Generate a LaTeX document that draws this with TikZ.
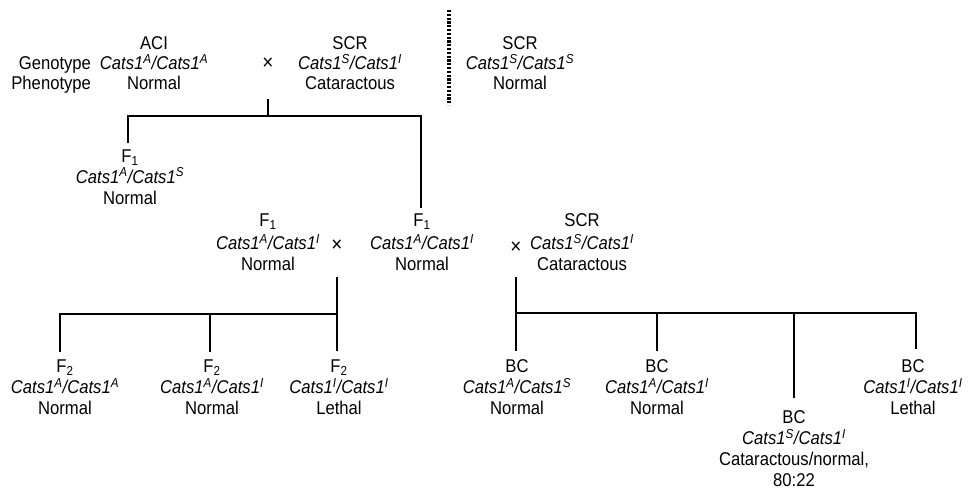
\documentclass[tikz,border=0pt]{standalone}
\usepackage{fontspec}
\setmainfont{Liberation Sans}[FakeStretch=0.9]
\newcommand{\gtype}[2]{\textit{Cats1\textsuperscript{#1}/Cats1\textsuperscript{#2}}}
\begin{document}
\begin{tikzpicture}[x=1pt,y=-1pt,
  ind/.style={align=center, inner sep=0pt, outer sep=0pt, anchor=north,
    font=\fontsize{18.5}{21}\selectfont},
  topind/.style={ind, font=\fontsize{18.5}{20}\selectfont},
  cross/.style={inner sep=0pt, font=\fontsize{21}{22}\selectfont},
  tree/.style={line width=1.3pt, line cap=rect},
  dotline/.style={line width=3.4pt, dash pattern=on 2.2pt off 1.6pt}]
\useasboundingbox (0,0) rectangle (973,501);

% parental generation
\node[topind, align=right, anchor=north east] (lab) at (91,56.5) {Genotype\\Phenotype};
\node[topind] (aci) at (154,36.5) {ACI\\\gtype{A}{A}\\Normal};
\node[cross] (x1) at (268,64) {×};
\node[topind] (scr1) at (350,36.5) {SCR\\\gtype{S}{I}\\Cataractous};
\node[topind] (scr0) at (520,36.5) {SCR\\\gtype{S}{S}\\Normal};
\coordinate (d1) at (449,10);
\coordinate (d2) at (449,105);
\draw[dotline] (d1) -- (d2);

% F1
\node[ind] (f1a) at (130,149.5) {F\textsubscript{1}\\\gtype{A}{S}\\Normal};
\node[ind] (f1b) at (268,214) {F\textsubscript{1}\\[2pt]\gtype{A}{I}\\Normal};
\node[cross] (x2) at (337,246) {×};
\node[ind] (f1c) at (422,214) {F\textsubscript{1}\\[2pt]\gtype{A}{I}\\Normal};
\node[cross] (x3) at (516,248) {×};
\node[ind] (scr2) at (582,214) {SCR\\[2pt]\gtype{S}{I}\\Cataractous};

\coordinate (t1) at (268,100);
\coordinate (j1) at (268,116);
\draw[tree] (t1) -- (j1);
\draw[tree] ([yshift=7pt,xshift=-2pt]f1a.north) |- (j1) -| ([yshift=7pt,xshift=-1pt]f1c.north);

% F2
\node[ind] (f2a) at (65,360) {F\textsubscript{2}\\\gtype{A}{A}\\Normal};
\node[ind] (f2b) at (212,360) {F\textsubscript{2}\\\gtype{A}{I}\\Normal};
\node[ind] (f2c) at (339,360) {F\textsubscript{2}\\\gtype{I}{I}\\Lethal};

\coordinate (t2) at (337,278);
\coordinate (j2) at (337,314);
\coordinate (b2) at (337,350);
\draw[tree] (t2) -- (b2);
\draw[tree] ([yshift=9pt,xshift=-5pt]f2a.north) |- (j2);
\draw[tree] ([yshift=9pt,xshift=-2pt]f2b.north) -- ([xshift=-2pt]f2b.north |- j2);

% backcross
\node[ind] (bc1) at (517,360) {BC\\\gtype{A}{S}\\Normal};
\node[ind] (bc2) at (657,360) {BC\\\gtype{A}{I}\\Normal};
\node[ind] (bc3) at (794,411) {BC\\\gtype{S}{I}\\Cataractous/normal,\\80:22};
\node[ind] (bc4) at (913,360) {BC\\\gtype{I}{I}\\Lethal};

\coordinate (t3) at (516,278);
\coordinate (j3) at (516,313);
\coordinate (b3) at (516,350);
\draw[tree] (t3) -- (b3);
\draw[tree] (j3) -| ([yshift=12pt,xshift=3pt]bc4.north);
\draw[tree] ([yshift=10pt]bc2.north) -- (bc2.north |- j3);
\draw[tree] ([yshift=14pt]bc3.north) -- (bc3.north |- j3);
\end{tikzpicture}
\end{document}
